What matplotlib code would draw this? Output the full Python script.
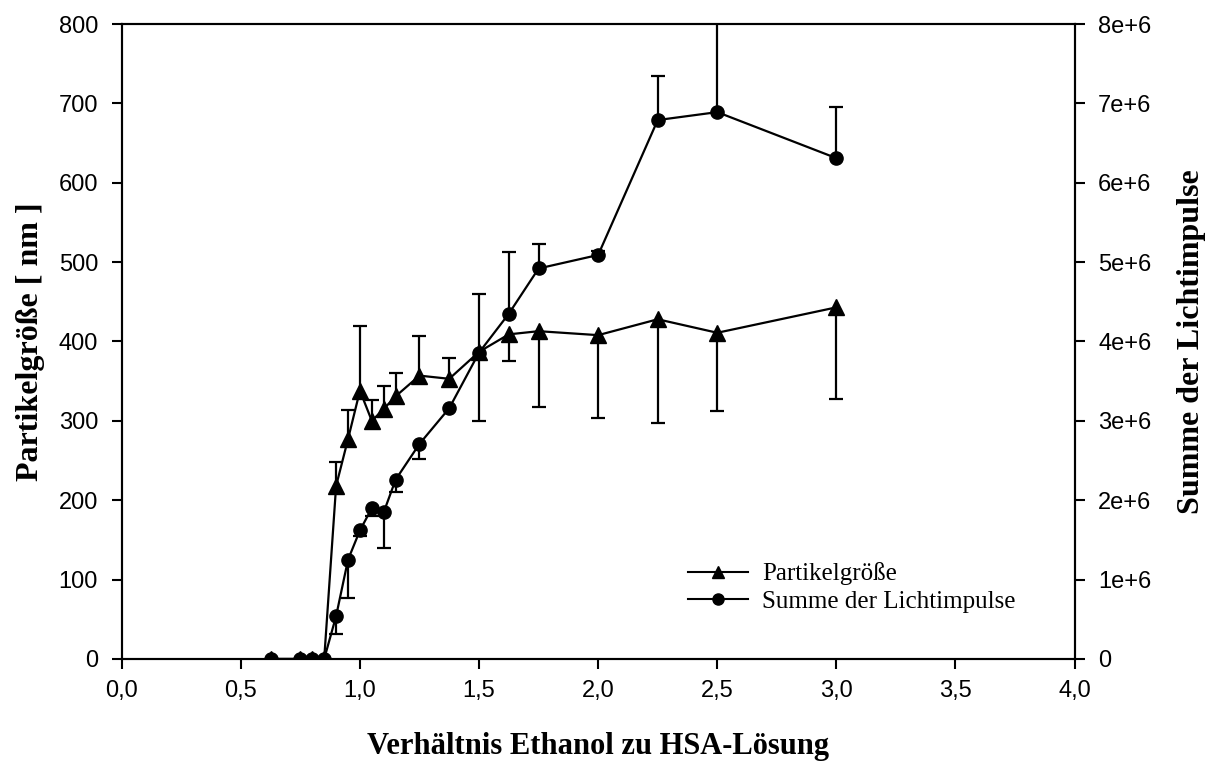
import matplotlib
matplotlib.use("Agg")
import matplotlib.pyplot as plt
from matplotlib.ticker import FuncFormatter, MultipleLocator
from matplotlib.lines import Line2D

# ratio ethanol : HSA solution
ratio = [0.625, 0.75, 0.8, 0.85, 0.9, 0.95, 1.0, 1.05, 1.1, 1.15,
         1.25, 1.375, 1.5, 1.625, 1.75, 2.0, 2.25, 2.5, 3.0]

# particle size [nm] (left axis)
size_nm = [0, 0, 0, 0, 218, 277, 338, 300, 315, 331,
           357, 353, 387, 409, 413, 408, 428, 411, 443]
size_err_up = [0, 0, 0, 0, 30, 37, 82, 26, 29, 29,
               50, 26, 73, 0, 0, 0, 0, 0, 0]
size_err_down = [0, 0, 0, 0, 0, 0, 0, 0, 0, 0,
                 0, 0, 0, 34, 96, 104, 131, 99, 116]

# sum of light pulses (right axis)
pulses = [0, 0, 0, 0, 0.54e6, 1.25e6, 1.62e6, 1.90e6, 1.85e6, 2.26e6,
          2.71e6, 3.16e6, 3.86e6, 4.35e6, 4.92e6, 5.09e6, 6.79e6, 6.89e6, 6.31e6]
pulses_err_up = [0, 0, 0, 0, 0, 0, 0, 0, 0, 0,
                 0, 0, 0, 0.78e6, 0.31e6, 0.05e6, 0.55e6, 1.3e6, 0.64e6]
pulses_err_down = [0, 0, 0, 0, 0.23e6, 0.48e6, 0.07e6, 0.10e6, 0.45e6, 0.15e6,
                   0.19e6, 0, 0.86e6, 0, 0, 0, 0, 0, 0]

sans = "Liberation Sans"
serif = "Liberation Serif"


def one_sided_errors(a, x, y, up, down):
    # draw only the non-zero halves of the error bars, each with its own cap
    for xi, yi, u, d in zip(x, y, up, down):
        for end in (yi + u if u else None, yi - d if d else None):
            if end is None:
                continue
            a.vlines(xi, yi, end, color="black", linewidth=1.6, zorder=2)
            a.plot([xi], [end], marker="_", markersize=9.5, markeredgewidth=1.6,
                   color="black", zorder=2)


fig = plt.figure(figsize=(12.17, 7.65), dpi=100)
ax = fig.add_axes([0.100, 0.1386, 0.783, 0.830])
ax2 = ax.twinx()

one_sided_errors(ax, ratio, size_nm, size_err_up, size_err_down)
ax.plot(ratio, size_nm, color="black", marker="^", markersize=11,
        linewidth=1.6, zorder=3)
one_sided_errors(ax2, ratio, pulses, pulses_err_up, pulses_err_down)
ax2.plot(ratio, pulses, color="black", marker="o", markersize=9.5,
         linewidth=1.6, zorder=3)

ax.set_xlim(0, 4)
ax.set_ylim(0, 800)
ax2.set_ylim(0, 8e6)
ax.xaxis.set_major_locator(MultipleLocator(0.5))
ax.yaxis.set_major_locator(MultipleLocator(100))
ax2.yaxis.set_major_locator(MultipleLocator(1e6))
ax.xaxis.set_major_formatter(FuncFormatter(lambda v, p: f"{v:.1f}".replace(".", ",")))
ax2.yaxis.set_major_formatter(FuncFormatter(
    lambda v, p: "0" if v == 0 else f"{int(round(v / 1e6))}e+6"))

for a in (ax, ax2):
    for s in a.spines.values():
        s.set_linewidth(1.5)
    a.tick_params(direction="out", length=7, width=1.5, labelsize=17, pad=10)
    for lab in a.get_xticklabels() + a.get_yticklabels():
        lab.set_family(sans)
ax.tick_params(axis="x", pad=8)

ax.set_xlabel("Verhältnis Ethanol zu HSA-Lösung", family=serif, fontweight="bold",
              fontsize=22, labelpad=22)
ax.set_ylabel("Partikelgröße [ nm ]", family=serif, fontweight="bold",
              fontsize=23, labelpad=10)
ax2.set_ylabel("Summe der Lichtimpulse", family=serif, fontweight="bold",
               fontsize=23, labelpad=18)

handles = [Line2D([], [], color="black", marker="^", markersize=9, linewidth=1.5),
           Line2D([], [], color="black", marker="o", markersize=8, linewidth=1.5)]
ax2.legend(handles, ["Partikelgröße", "Summe der Lichtimpulse"],
           loc="upper left", bbox_to_anchor=(675 / 1217, 1 - 550 / 765),
           bbox_transform=fig.transFigure, frameon=False, borderpad=0,
           prop={"family": serif, "size": 18}, handlelength=2.4,
           handletextpad=0.6, labelspacing=0.2)

fig.savefig("out.png", dpi=100)
